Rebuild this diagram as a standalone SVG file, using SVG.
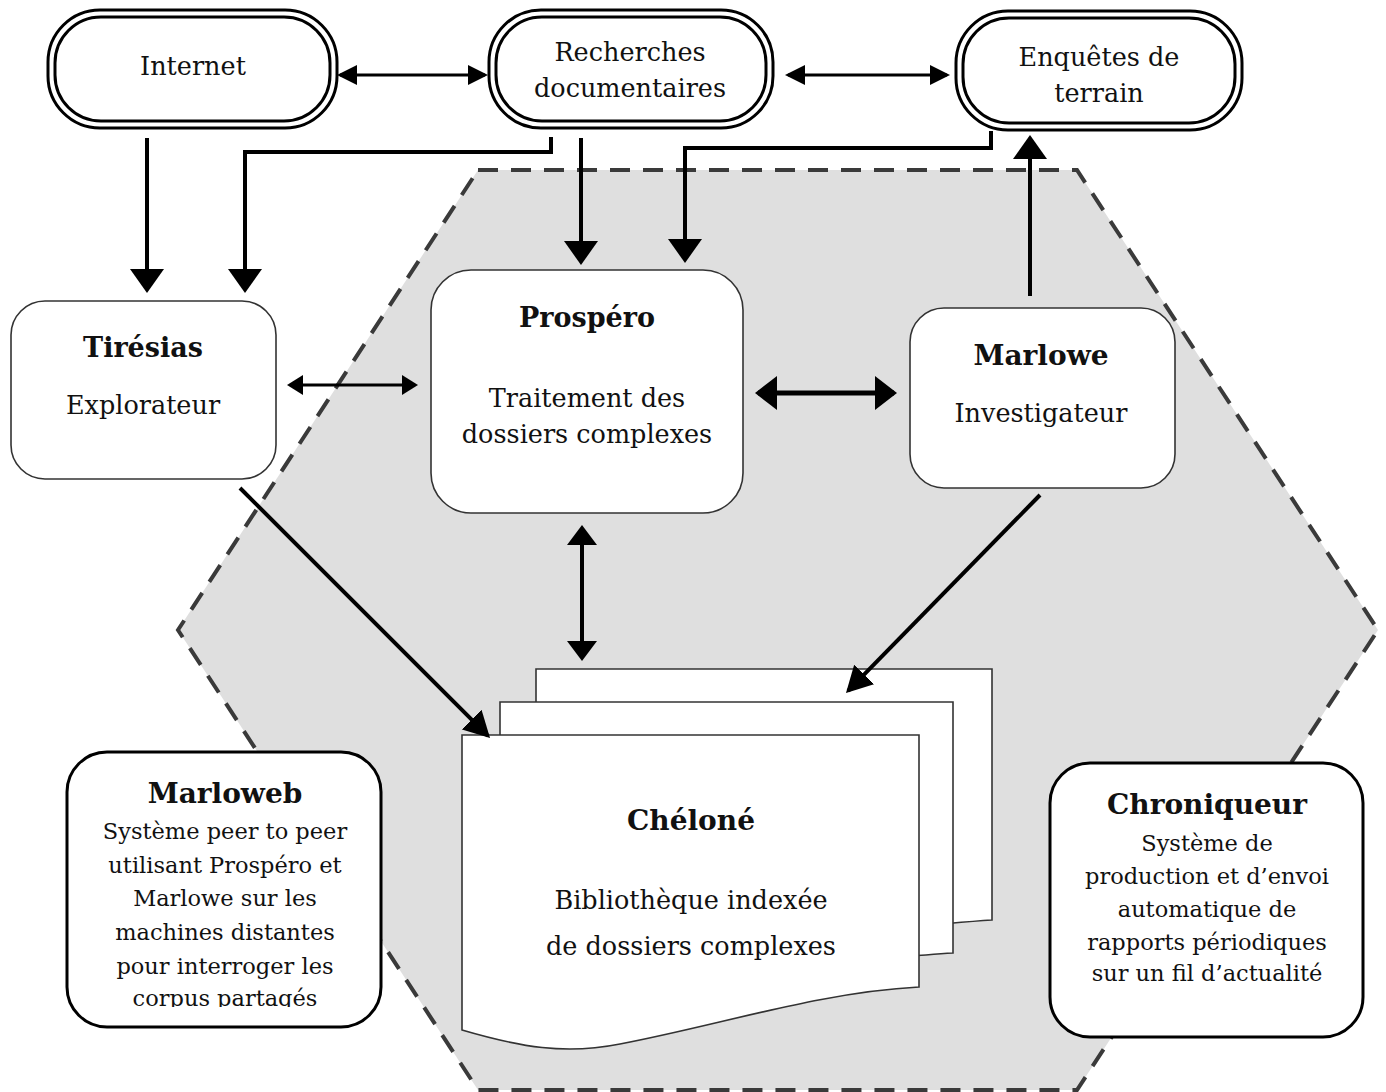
<svg xmlns="http://www.w3.org/2000/svg" width="1386" height="1092" viewBox="0 0 1386 1092">
<style>
.t{font-family:"DejaVu Serif","Liberation Serif",serif;fill:#111;text-anchor:middle}
.b{font-weight:bold}
.s26{font-size:25.5px}
.s23{font-size:22.5px}
.s27{font-size:27px}
.s28{font-size:28px}
.ol{fill:#fff;stroke:#000;stroke-width:3}
.box{fill:#fff;stroke:#333;stroke-width:1.6}
.box3{fill:#fff;stroke:#000;stroke-width:3}
.page{fill:#fff;stroke:#333;stroke-width:1.6}
.c{fill:none;stroke:#000}
</style>
<defs>
<marker id="mBig" markerUnits="userSpaceOnUse" markerWidth="24" markerHeight="34" refX="21" refY="17" orient="auto-start-reverse"><path d="M0,0 L24,17 L0,34 z" fill="#000"/></marker>
<marker id="mTop" markerUnits="userSpaceOnUse" markerWidth="20" markerHeight="20" refX="17" refY="10" orient="auto-start-reverse"><path d="M0,0 L20,10 L0,20 z" fill="#000"/></marker>
<marker id="mSm" markerUnits="userSpaceOnUse" markerWidth="16" markerHeight="20" refX="13" refY="10" orient="auto-start-reverse"><path d="M0,0 L16,10 L0,20 z" fill="#000"/></marker>
<marker id="mThick" markerUnits="userSpaceOnUse" markerWidth="22" markerHeight="34" refX="19" refY="17" orient="auto-start-reverse"><path d="M0,0 L22,17 L0,34 z" fill="#000"/></marker>
<marker id="mVert" markerUnits="userSpaceOnUse" markerWidth="20" markerHeight="30" refX="17" refY="15" orient="auto-start-reverse"><path d="M0,0 L20,15 L0,30 z" fill="#000"/></marker>
<marker id="mDiag" markerUnits="userSpaceOnUse" markerWidth="26" markerHeight="28" refX="23" refY="14" orient="auto-start-reverse"><path d="M0,0 L26,14 L0,28 z" fill="#000"/></marker>
<clipPath id="clipMw"><rect x="60" y="745" width="330" height="262"/></clipPath>
</defs>

<rect x="0" y="0" width="1386" height="1092" fill="#fff"/>

<g id="hexagon">
<polygon points="478,170 1077,170 1378,630 1077,1090 478,1090 178,630" fill="#dfdfdf" stroke="#3a3a3a" stroke-width="4" stroke-dasharray="20 13"/>
</g>

<g id="internet">
<rect class="ol" x="48" y="10" width="289" height="118" rx="52" ry="52"/>
<rect class="ol" x="55" y="17" width="275" height="104" rx="46" ry="46"/>
<text class="t s26" x="193" y="75">Internet</text>
</g>

<g id="recherches">
<rect class="ol" x="489" y="10" width="284" height="118" rx="52" ry="52"/>
<rect class="ol" x="496" y="17" width="270" height="104" rx="46" ry="46"/>
<text class="t s26" x="630" y="61">Recherches</text>
<text class="t s26" x="630" y="97">documentaires</text>
</g>

<g id="enquetes">
<rect class="ol" x="956" y="11" width="286" height="119" rx="52" ry="52"/>
<rect class="ol" x="963" y="18" width="272" height="105" rx="46" ry="46"/>
<text class="t s26" x="1099" y="66">Enquêtes de</text>
<text class="t s26" x="1099" y="102">terrain</text>
</g>

<g id="tiresias">
<rect class="box" x="11" y="301" width="265" height="178" rx="34" ry="34"/>
<text class="t b s27" x="143" y="357">Tirésias</text>
<text class="t s26" x="143" y="414">Explorateur</text>
</g>

<g id="prospero">
<rect class="box" x="431" y="270" width="312" height="243" rx="40" ry="40"/>
<text class="t b s27" x="587" y="327">Prospéro</text>
<text class="t s26" x="587" y="407">Traitement des</text>
<text class="t s26" x="587" y="443">dossiers complexes</text>
</g>

<g id="marlowe">
<rect class="box" x="910" y="308" width="265" height="180" rx="34" ry="34"/>
<text class="t b s28" x="1041" y="365">Marlowe</text>
<text class="t s26" x="1041" y="422">Investigateur</text>
</g>

<g id="chelone">
<path class="page" d="M536,669 H992 V920 C960,922 930,925 880,930 L536,930 Z"/>
<path class="page" d="M500,702 H953 V953 C920,955 890,958 840,962 L500,962 Z"/>
<path class="page" d="M462,735 H919 V987 C820,992 720,1025 620,1044 C565,1055 520,1047 462,1030 Z"/>
<text class="t b s28" x="691" y="830">Chéloné</text>
<text class="t s26" x="691" y="909">Bibliothèque indexée</text>
<text class="t s26" x="691" y="955">de dossiers complexes</text>
</g>

<g id="marloweb">
<rect class="box3" x="67" y="752" width="314" height="275" rx="40" ry="40"/>
<text class="t b s28" x="225" y="803">Marloweb</text>
<g clip-path="url(#clipMw)">
<text class="t s23" x="225" y="839">Système peer to peer</text>
<text class="t s23" x="225" y="873">utilisant Prospéro et</text>
<text class="t s23" x="225" y="906">Marlowe sur les</text>
<text class="t s23" x="225" y="940">machines distantes</text>
<text class="t s23" x="225" y="974">pour interroger les</text>
<text class="t s23" x="225" y="1006">corpus partagés</text>
</g>
</g>

<g id="chroniqueur">
<rect class="box3" x="1050" y="763" width="313" height="274" rx="40" ry="40"/>
<text class="t b s28" x="1207" y="814">Chroniqueur</text>
<text class="t s23" x="1207" y="851">Système de</text>
<text class="t s23" x="1207" y="884">production et d’envoi</text>
<text class="t s23" x="1207" y="917">automatique de</text>
<text class="t s23" x="1207" y="950">rapports périodiques</text>
<text class="t s23" x="1207" y="981">sur un fil d’actualité</text>
</g>

<g id="connectors">
<path class="c" stroke-width="3" d="M340,75 H485" marker-start="url(#mTop)" marker-end="url(#mTop)"/>
<path class="c" stroke-width="3" d="M788,75 H947" marker-start="url(#mTop)" marker-end="url(#mTop)"/>
<path class="c" stroke-width="4" d="M147,138 V290" marker-end="url(#mBig)"/>
<path class="c" stroke-width="4" d="M551,137 V152 H245 V290" marker-end="url(#mBig)"/>
<path class="c" stroke-width="4" d="M581,138 V262" marker-end="url(#mBig)"/>
<path class="c" stroke-width="4" d="M991,131 V148 H685 V260" marker-end="url(#mBig)"/>
<path class="c" stroke-width="4" d="M1030,296 V138" marker-end="url(#mBig)"/>
<path class="c" stroke-width="3" d="M290,385 H415" marker-start="url(#mSm)" marker-end="url(#mSm)"/>
<path class="c" stroke-width="5" d="M758,393 H894" marker-start="url(#mThick)" marker-end="url(#mThick)"/>
<path class="c" stroke-width="4" d="M582,528 V658" marker-start="url(#mVert)" marker-end="url(#mVert)"/>
<path class="c" stroke-width="4" d="M240,488 L487.9,735.9" marker-end="url(#mDiag)"/>
<path class="c" stroke-width="4" d="M1040,495 L848.1,690.9" marker-end="url(#mDiag)"/>
</g>
</svg>
